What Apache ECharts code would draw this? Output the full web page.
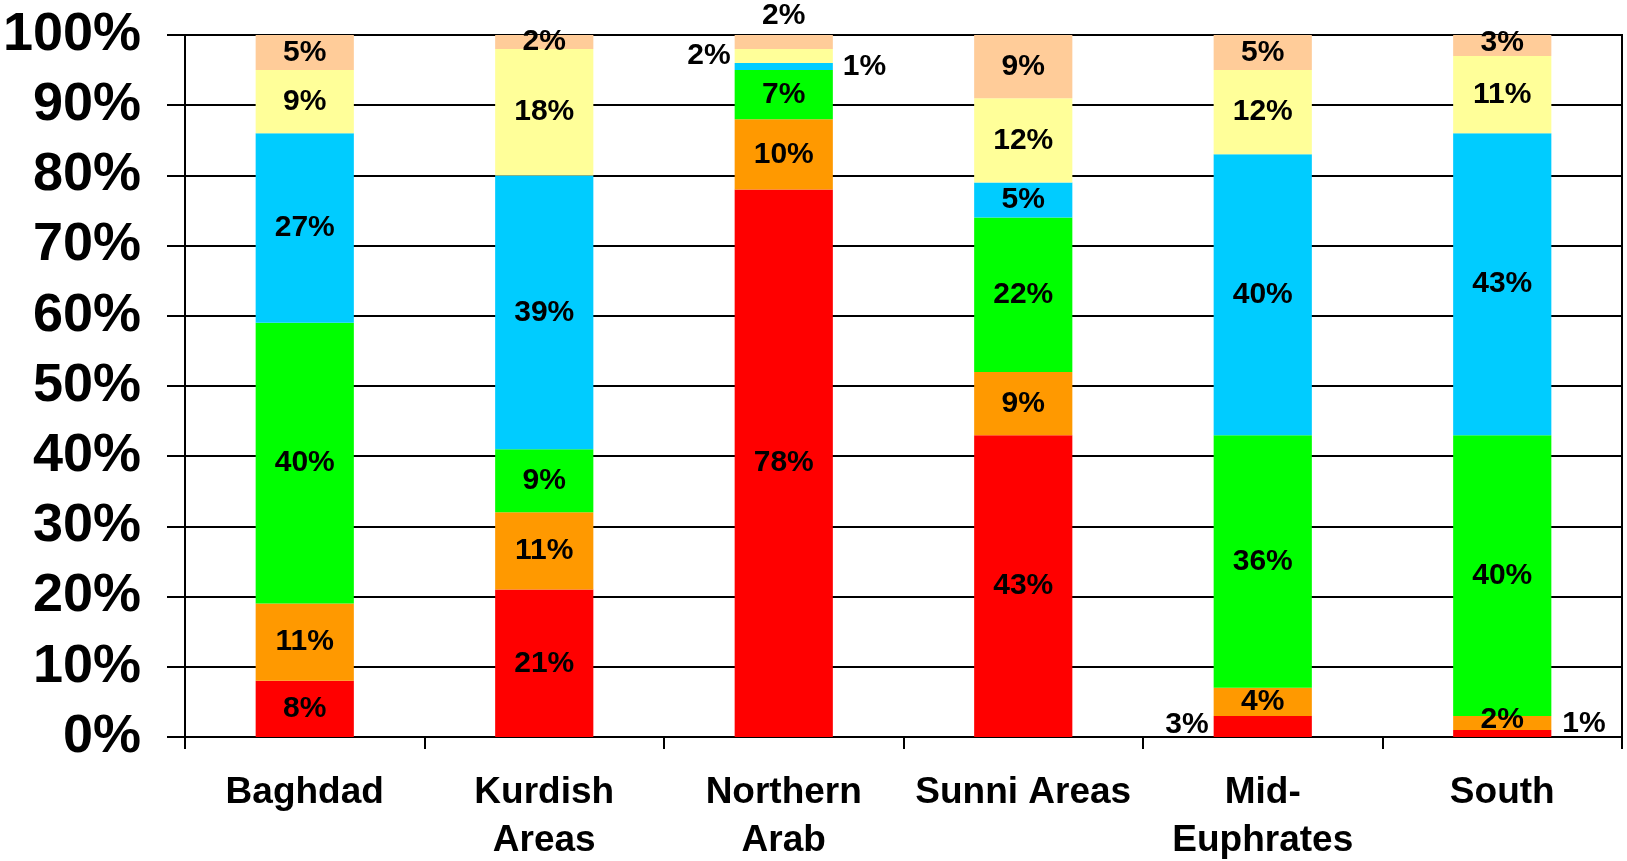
<!DOCTYPE html>
<html>
<head>
<meta charset="utf-8">
<script src="https://cdn.jsdelivr.net/npm/echarts@6/dist/echarts.min.js"></script>
<style>
  html, body { margin: 0; padding: 0; background: #fff; }
  #chart { width: 1627px; height: 861px; }
</style>
</head>
<body>
<div id="chart"></div>
<script>
// categories and values (percent of each region)
const regions = ['Baghdad', 'Kurdish\nAreas', 'Northern\nArab', 'Sunni Areas', 'Mid-\nEuphrates', 'South'];
const redValues = [8, 21, 78, 43, 3, 1];
const orangeValues = [11, 11, 10, 9, 4, 2];
const greenValues = [40, 9, 7, 22, 36, 40];
const blueValues = [27, 39, 1, 5, 40, 43];
const yellowValues = [9, 18, 2, 12, 12, 11];
const peachValues = [5, 2, 2, 9, 5, 3];

const seriesList = [
  { values: redValues, color: '#ff0000' },
  { values: orangeValues, color: '#ff9900' },
  { values: greenValues, color: '#00ff00' },
  { values: blueValues, color: '#00ccff' },
  { values: yellowValues, color: '#ffff99' },
  { values: peachValues, color: '#ffcc99' }
];

// labels that sit outside their (too small) segment: [series, category, label]
const outsideLabels = [
  [5, 2, { position: 'top', distance: 4 }],
  [4, 2, { position: 'left', distance: 4 }],
  [3, 2, { position: 'right', distance: 10 }],
  [0, 4, { position: 'left', distance: 5, offset: [0, -2] }],
  [0, 5, { position: 'right', distance: 11, offset: [0, -10] }],
  [1, 5, { offset: [0, -3] }],
  [5, 5, { offset: [0, -3] }]
];

const chart = echarts.init(document.getElementById('chart'));

const series = seriesList.map((s, si) => ({
  type: 'bar',
  stack: 'total',
  barWidth: '41%',
  itemStyle: { color: s.color },
  label: {
    show: true,
    position: 'inside',
    formatter: '{c}%',
    color: '#000',
    fontFamily: 'Liberation Sans',
    fontWeight: 'bold',
    fontSize: 30
  },
  data: s.values.map((v, ci) => {
    const o = outsideLabels.find((x) => x[0] === si && x[1] === ci);
    if (!o) return v;
    return { value: v, label: o[2] };
  })
}));

chart.setOption({
  animation: false,
  grid: {
    left: 185,
    right: 5,
    top: 35,
    bottom: 124,
    outerBoundsMode: 'none',
    show: true,
    borderColor: '#000',
    borderWidth: 2
  },
  xAxis: {
    type: 'category',
    data: regions,
    axisLine: { lineStyle: { color: '#000', width: 2 } },
    axisTick: { show: true, length: 12, lineStyle: { color: '#000', width: 2 } },
    axisLabel: {
      color: '#000',
      fontFamily: 'Liberation Sans',
      fontWeight: 'bold',
      fontSize: 37,
      lineHeight: 48,
      margin: 32,
      interval: 0
    }
  },
  yAxis: {
    type: 'value',
    min: 0,
    max: 100,
    interval: 10,
    axisLine: { show: true, lineStyle: { color: '#000', width: 2 } },
    axisTick: { show: true, length: 18, lineStyle: { color: '#000', width: 2 } },
    splitLine: { show: true, lineStyle: { color: '#000', width: 2 } },
    axisLabel: {
      formatter: '{value}%',
      color: '#000',
      fontFamily: 'Liberation Sans',
      fontWeight: 'bold',
      fontSize: 54,
      margin: 44
    }
  },
  series: series
});
</script>
</body>
</html>
